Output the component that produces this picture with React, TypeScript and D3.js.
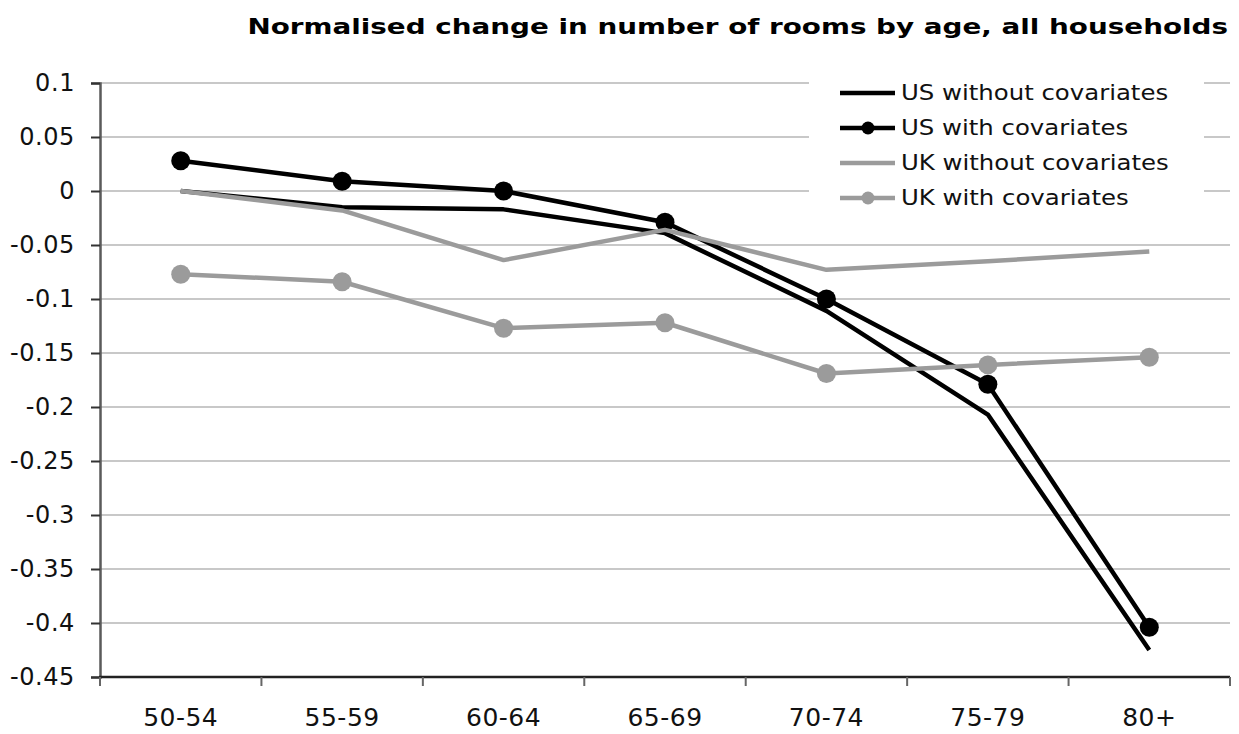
import React, { useRef, useEffect } from "react";
import * as d3 from "d3";

const ages = ["50-54", "55-59", "60-64", "65-69", "70-74", "75-79", "80+"];
const usWithout = [0, -0.015, -0.017, -0.039, -0.111, -0.207, -0.425];
const usWith = [0.028, 0.009, 0, -0.029, -0.1, -0.179, -0.404];
const ukWithout = [0, -0.018, -0.064, -0.036, -0.073, -0.065, -0.056];
const ukWith = [-0.077, -0.084, -0.127, -0.122, -0.169, -0.161, -0.154];
const yTicks = [0.1, 0.05, 0, -0.05, -0.1, -0.15, -0.2, -0.25, -0.3, -0.35, -0.4, -0.45];

const seriesNames = ["US without covariates", "US with covariates", "UK without covariates", "UK with covariates"];

const App = () => {
  const ref = useRef(null);

  useEffect(() => {
    const svg = d3.select(ref.current);
    svg.selectAll("*").remove();

    const font = "'DejaVu Sans', Verdana, sans-serif";

    const x = d3.scaleBand().domain(ages).range([100, 1230]);
    const y = d3.scaleLinear().domain([-0.45, 0.1]).range([677, 83]);
    const cx = (i) => x(ages[i]) + x.bandwidth() / 2;

    // gridlines
    svg.append("g")
      .selectAll("line")
      .data(yTicks.filter(t => t > -0.45))
      .join("line")
      .attr("x1", 100).attr("x2", 1230)
      .attr("y1", d => y(d)).attr("y2", d => y(d))
      .attr("stroke", "#c8c8c8").attr("stroke-width", 2);

    // legend background hides the gridlines behind it
    svg.append("rect").attr("x", 809).attr("y", 74).attr("width", 395).attr("height", 140).attr("fill", "#fff");

    // y axis
    const yAxis = d3.axisLeft(y).tickValues(yTicks).tickSize(9).tickPadding(16)
      .tickFormat(d => String(d));
    const gy = svg.append("g").attr("transform", "translate(100,0)").call(yAxis);
    gy.select(".domain").attr("stroke", "#5a5a5a").attr("stroke-width", 2.5);
    gy.selectAll(".tick line").attr("stroke", "#333").attr("stroke-width", 2);
    gy.selectAll("text").attr("font-family", font).attr("font-size", 24).attr("fill", "#111")
      .attr("letter-spacing", 0.6);

    // x axis
    const gx = svg.append("g").attr("transform", `translate(0,${y(-0.45)})`);
    gx.append("line").attr("x1", 99).attr("x2", 1230).attr("y1", 0).attr("y2", 0)
      .attr("stroke", "#222").attr("stroke-width", 2.5);
    gx.selectAll(".xt")
      .data(ages.map(a => x(a)).concat([1230]))
      .join("line")
      .attr("class", "xt")
      .attr("x1", d => d).attr("x2", d => d)
      .attr("y1", 0).attr("y2", 9)
      .attr("stroke", "#666").attr("stroke-width", 2);
    gx.selectAll("text")
      .data(ages)
      .join("text")
      .attr("x", (d, i) => cx(i))
      .attr("y", 49)
      .attr("text-anchor", "middle")
      .attr("font-family", font).attr("font-size", 25).attr("fill", "#111")
      .attr("letter-spacing", 0.5)
      .text(d => d);

    const line = d3.line()
      .x((d, i) => cx(i))
      .y(d => y(d));

    const series = [
      { values: usWithout, color: "#000", dots: false },
      { values: usWith, color: "#000", dots: true },
      { values: ukWithout, color: "#9b9b9b", dots: false },
      { values: ukWith, color: "#9b9b9b", dots: true },
    ];

    series.forEach(s => {
      svg.append("path")
        .attr("d", line(s.values))
        .attr("fill", "none")
        .attr("stroke", s.color)
        .attr("stroke-width", 4.5)
        .attr("stroke-linejoin", "round");
      if (s.dots) {
        svg.append("g").selectAll("circle")
          .data(s.values)
          .join("circle")
          .attr("cx", (d, i) => cx(i))
          .attr("cy", d => y(d))
          .attr("r", 9.5)
          .attr("fill", s.color);
      }
    });

    // legend
    const lg = svg.append("g");
    seriesNames.forEach((name, i) => {
      const s = series[i];
      const ly = 93 + i * 35;
      lg.append("line").attr("x1", 840).attr("x2", 895).attr("y1", ly).attr("y2", ly)
        .attr("stroke", s.color).attr("stroke-width", 4.5);
      if (s.dots) lg.append("circle").attr("cx", 868).attr("cy", ly).attr("r", 6.5).attr("fill", s.color);
      lg.append("text")
        .attr("transform", `translate(901,${ly + 7}) scale(1.19,1)`)
        .attr("font-family", font).attr("font-size", 20.5).attr("fill", "#111")
        .text(name);
    });

    // title
    svg.append("text")
      .attr("transform", "translate(1228,34) scale(1.325,1)")
      .attr("text-anchor", "end")
      .attr("font-family", font).attr("font-weight", "bold").attr("font-size", 21).attr("fill", "#000")
      .text("Normalised change in number of rooms by age, all households");
  }, []);

  return (
    <svg ref={ref} width={1239} height={734} style={{ position: "absolute", left: 0, top: 0, background: "#fff" }} />
  );
};

export default App;
